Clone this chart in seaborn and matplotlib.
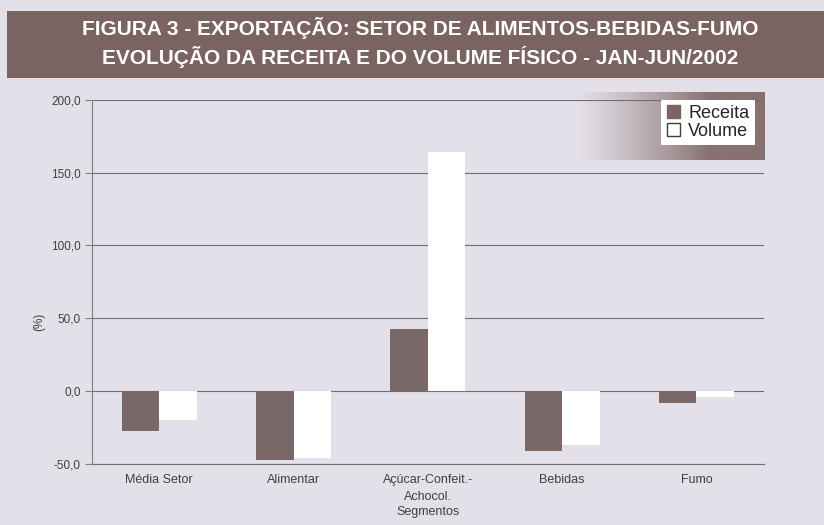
import numpy as np
import pandas as pd
import matplotlib
matplotlib.use('Agg')
import matplotlib.pyplot as plt
from matplotlib.patches import Rectangle, Patch
from matplotlib.colors import to_rgb
from matplotlib.ticker import FuncFormatter
import seaborn as sns

# dados
segmentos = ['Média Setor', 'Alimentar', 'Açúcar-Confeit.-\nAchocol.', 'Bebidas', 'Fumo']
receita = [-27.5, -47.0, 42.5, -41.0, -8.0]
volume = [-20.0, -46.0, 164.0, -37.0, -4.0]

df = pd.DataFrame({
    'Segmento': segmentos * 2,
    'Serie': ['Receita'] * len(segmentos) + ['Volume'] * len(segmentos),
    'Valor': receita + volume,
})

sns.set_style('white')
plt.rcParams['font.family'] = ['Liberation Sans', 'DejaVu Sans']

bg = '#e4e0e9'
marrom = '#7d6464'

fig = plt.figure(figsize=(8.24, 5.25), dpi=100, facecolor=bg)

# faixa do título
fig.patches.append(Rectangle((0.008, 0.851), 0.992, 0.128, transform=fig.transFigure,
                             facecolor='#7a6462', edgecolor='none', zorder=0))
fig.text(0.51, 0.946, 'FIGURA 3 - EXPORTAÇÃO: SETOR DE ALIMENTOS-BEBIDAS-FUMO',
         ha='center', va='center', color='white', fontsize=15, fontweight='bold')
fig.text(0.51, 0.891, 'EVOLUÇÃO DA RECEITA E DO VOLUME FÍSICO - JAN-JUN/2002',
         ha='center', va='center', color='white', fontsize=15, fontweight='bold')

ax = fig.add_axes([0.1117, 0.116, 0.815, 0.694])
ax.set_facecolor(bg)

sns.barplot(data=df, x='Segmento', y='Valor', hue='Serie',
            palette={'Receita': marrom, 'Volume': 'white'},
            width=0.56, gap=0, edgecolor='none', linewidth=0, ax=ax, legend=False)

ax.set_ylim(-50, 200)
ax.set_yticks([-50, 0, 50, 100, 150, 200])
ax.yaxis.set_major_formatter(FuncFormatter(lambda v, p: f'{v:.1f}'.replace('.', ',')))
ax.set_xlim(-0.5, len(segmentos) - 0.5)
ax.grid(axis='y', color='#707070', linewidth=0.8)
ax.set_axisbelow(True)
for s in ['top', 'right']:
    ax.spines[s].set_visible(False)
ax.spines['left'].set_color('#808080')
ax.spines['bottom'].set_color('#707070')
ax.spines['bottom'].set_linewidth(0.8)
ax.tick_params(axis='y', which='major', length=5, color='#808080', direction='out',
               labelsize=8.5, labelcolor='#404040', pad=3, left=True)
ax.tick_params(axis='x', length=0, labelsize=9, labelcolor='#404040', pad=7)
for t in ax.get_xticklabels():
    t.set_linespacing(1.6)
ax.set_xlabel('Segmentos', fontsize=9, color='#404040', labelpad=2)
ax.set_ylabel('(%)', fontsize=8.5, color='#404040')
ax.yaxis.set_label_coords(-0.07, 0.39)

# sombra da legenda (degradê)
rgb = np.array(to_rgb(marrom))
ramp = np.clip(np.linspace(0, 1.4, 200), 0, 1) ** 1.2 * 0.9
img = np.zeros((1, 200, 4))
img[0, :, :3] = rgb
img[0, :, 3] = ramp
ax.imshow(img, extent=(0.719, 1.001, 0.835, 1.019), transform=ax.transAxes,
          aspect='auto', zorder=4, clip_on=False, interpolation='bilinear')
ax.set_xlim(-0.5, len(segmentos) - 0.5)
ax.set_ylim(-50, 200)

handles = [Patch(facecolor=marrom, edgecolor=marrom, label='Receita'),
           Patch(facecolor='white', edgecolor='#404040', label='Volume')]
leg = ax.legend(handles=handles, loc='upper right', bbox_to_anchor=(0.987, 1.0),
                fontsize=13, frameon=True, fancybox=False, framealpha=1,
                handlelength=0.75, handleheight=0.75, handletextpad=0.45,
                borderpad=0.3, labelspacing=0.05, borderaxespad=0)
leg.get_frame().set_edgecolor('white')
leg.get_frame().set_linewidth(0)
leg.set_zorder(5)

fig.savefig('out.png', dpi=100, facecolor=bg)
